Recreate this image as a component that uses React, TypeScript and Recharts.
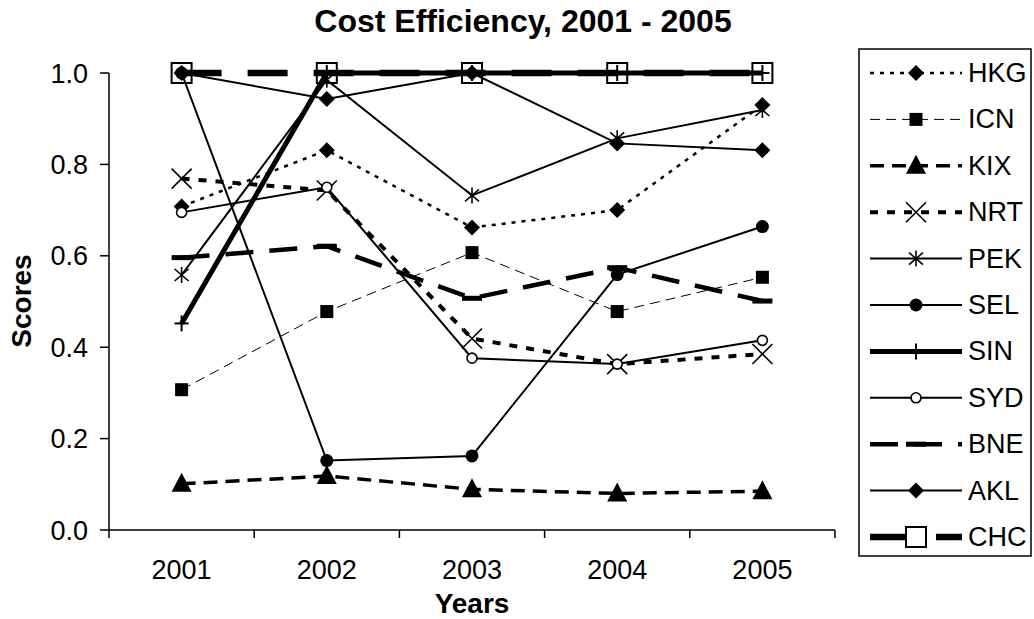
import React from "react";
import { LineChart, Line, XAxis, YAxis, Legend } from "recharts";

const YEARS = ["2001", "2002", "2003", "2004", "2005"];

const HKG = [0.708, 0.831, 0.662, 0.7, 0.93];
const ICN = [0.307, 0.478, 0.607, 0.478, 0.553];
const KIX = [0.101, 0.118, 0.089, 0.08, 0.085];
const NRT = [0.769, 0.743, 0.419, 0.363, 0.385];
const PEK = [0.558, 0.985, 0.732, 0.857, 0.919];
const SEL = [1.0, 0.152, 0.162, 0.559, 0.664];
const SIN = [0.452, 1.0, 1.0, 1.0, 1.0];
const SYD = [0.695, 0.75, 0.376, 0.363, 0.415];
const BNE = [0.596, 0.621, 0.507, 0.574, 0.501];
const AKL = [1.0, 0.943, 1.0, 0.846, 0.831];
const CHC = [1.0, 1.0, 1.0, 1.0, 1.0];

const Y_TICKS = [0, 0.2, 0.4, 0.6, 0.8, 1.0];

type MarkerKind =
  | "diamond"
  | "square"
  | "triangle"
  | "cross"
  | "star"
  | "dot"
  | "plus"
  | "ring"
  | "bar"
  | "box";

type Series = {
  name: string;
  values: number[];
  width: number;
  dash?: string;
  marker: MarkerKind;
};

const SERIES: Series[] = [
  { name: "HKG", values: HKG, width: 2.5, dash: "4 6", marker: "diamond" },
  { name: "ICN", values: ICN, width: 1, dash: "10 6", marker: "square" },
  { name: "KIX", values: KIX, width: 3.5, dash: "14 8", marker: "triangle" },
  { name: "NRT", values: NRT, width: 4, dash: "8 9", marker: "cross" },
  { name: "PEK", values: PEK, width: 2, marker: "star" },
  { name: "SEL", values: SEL, width: 2, marker: "dot" },
  { name: "SIN", values: SIN, width: 5, marker: "plus" },
  { name: "SYD", values: SYD, width: 2, marker: "ring" },
  { name: "BNE", values: BNE, width: 4.5, dash: "28 16", marker: "bar" },
  { name: "AKL", values: AKL, width: 2, marker: "diamond" },
  { name: "CHC", values: CHC, width: 6.5, dash: "40 26", marker: "box" },
];

const rows = YEARS.map((year, i) => {
  const row: Record<string, string | number> = { year };
  SERIES.forEach((s) => {
    row[s.name] = s.values[i];
  });
  return row;
});

const W = 1034;
const H = 619;
const PLOT_LEFT = 109;
const PLOT_RIGHT = 835;
const PLOT_TOP = 73;
const PLOT_BOTTOM = 530;
const FONT = "'Liberation Sans', Arial, sans-serif";

function marker(kind: MarkerKind, cx: number, cy: number, key?: string, boxFill = "none") {
  switch (kind) {
    case "diamond":
      return (
        <polygon
          key={key}
          points={`${cx},${cy - 8} ${cx + 8},${cy} ${cx},${cy + 8} ${cx - 8},${cy}`}
          fill="#000"
        />
      );
    case "square":
      return <rect key={key} x={cx - 6.5} y={cy - 6.5} width={13} height={13} fill="#000" />;
    case "triangle":
      return (
        <polygon
          key={key}
          points={`${cx},${cy - 11} ${cx + 10},${cy + 8} ${cx - 10},${cy + 8}`}
          fill="#000"
        />
      );
    case "cross":
      return (
        <g key={key} stroke="#000" strokeWidth={1.6}>
          <line x1={cx - 10} y1={cy - 10} x2={cx + 10} y2={cy + 10} />
          <line x1={cx - 10} y1={cy + 10} x2={cx + 10} y2={cy - 10} />
        </g>
      );
    case "star":
      return (
        <g key={key} stroke="#000" strokeWidth={1.6}>
          <line x1={cx - 7} y1={cy - 6} x2={cx + 7} y2={cy + 6} />
          <line x1={cx - 7} y1={cy + 6} x2={cx + 7} y2={cy - 6} />
          <line x1={cx} y1={cy - 8} x2={cx} y2={cy + 8} />
        </g>
      );
    case "dot":
      return <circle key={key} cx={cx} cy={cy} r={6.5} fill="#000" />;
    case "plus":
      return (
        <g key={key} stroke="#000" strokeWidth={2}>
          <line x1={cx} y1={cy - 8} x2={cx} y2={cy + 8} />
          <line x1={cx - 7} y1={cy} x2={cx + 7} y2={cy} />
        </g>
      );
    case "ring":
      return <circle key={key} cx={cx} cy={cy} r={5} fill="#fff" stroke="#000" strokeWidth={1.6} />;
    case "bar":
      return <rect key={key} x={cx - 10} y={cy - 2.5} width={20} height={5} fill="#000" />;
    case "box":
      return (
        <rect
          key={key}
          x={cx - 10}
          y={cy - 10}
          width={20}
          height={20}
          fill={boxFill}
          stroke="#000"
          strokeWidth={2}
        />
      );
  }
}

const XTick = (props: any) => {
  const { x, y, payload, index } = props;
  const half = (PLOT_RIGHT - PLOT_LEFT) / YEARS.length / 2;
  return (
    <g>
      <line x1={x - half} x2={x - half} y1={y} y2={y + 8} stroke="#000" strokeWidth={1.5} />
      {index === YEARS.length - 1 && (
        <line x1={x + half} x2={x + half} y1={y} y2={y + 8} stroke="#000" strokeWidth={1.5} />
      )}
      <text
        x={x}
        y={y + 40}
        textAnchor="middle"
        dominantBaseline="central"
        fontSize={27}
        fill="#000"
        fontFamily={FONT}
      >
        {payload.value}
      </text>
    </g>
  );
};

// legend box on the right, one row per airport
const LegendBox = () => {
  const rowGap = 46.4;
  return (
    <svg width={178} height={514} style={{ display: "block" }}>
      <rect x={3} y={3} width={172} height={507} fill="#fff" stroke="#000" strokeWidth={1.5} />
      {SERIES.map((s, i) => {
        const cy = 27 + i * rowGap;
        return (
          <g key={s.name}>
            <line
              x1={14}
              x2={106}
              y1={cy}
              y2={cy}
              stroke="#000"
              strokeWidth={s.width}
              strokeDasharray={s.dash}
            />
            {marker(s.marker, 60, cy, undefined, "#fff")}
            <text
              x={112}
              y={cy}
              dominantBaseline="central"
              fontSize={27}
              fill="#000"
              fontFamily={FONT}
            >
              {s.name}
            </text>
          </g>
        );
      })}
    </svg>
  );
};

export default function App() {
  return (
    <div
      style={{
        position: "absolute",
        left: 0,
        top: 0,
        width: W,
        height: H,
        background: "#fff",
        fontFamily: FONT,
      }}
    >
      <LineChart
        width={W}
        height={H}
        data={rows}
        margin={{ top: PLOT_TOP, right: W - PLOT_RIGHT, bottom: 0, left: 0 }}
      >
        <XAxis
          dataKey="year"
          scale="band"
          height={H - PLOT_BOTTOM}
          tickLine={false}
          tickSize={0}
          tickMargin={0}
          tick={<XTick />}
          axisLine={{ stroke: "#000", strokeWidth: 1.5 }}
        />
        <XAxis
          xAxisId="frame"
          dataKey="year"
          orientation="top"
          height={0}
          tick={false}
          tickLine={false}
          axisLine={{ stroke: "#888", strokeWidth: 2 }}
        />
        <YAxis
          domain={[0, 1]}
          ticks={Y_TICKS}
          width={PLOT_LEFT}
          tickSize={9}
          tickMargin={12}
          tickFormatter={(v: number) => v.toFixed(1)}
          tick={{ fontSize: 27, fill: "#000", fontFamily: FONT }}
          tickLine={{ stroke: "#000", strokeWidth: 1.5 }}
          axisLine={{ stroke: "#000", strokeWidth: 1.5 }}
        />
        <YAxis
          yAxisId="frame"
          orientation="right"
          domain={[0, 1]}
          width={0}
          tick={false}
          tickLine={false}
          axisLine={{ stroke: "#888", strokeWidth: 2 }}
        />
        <Legend
          layout="vertical"
          align="center"
          verticalAlign="middle"
          wrapperStyle={{ left: 856, top: 46, width: 178, height: 514 }}
          content={() => <LegendBox />}
        />
        {SERIES.map((s) => (
          <Line
            key={s.name}
            type="linear"
            dataKey={s.name}
            stroke="#000"
            strokeWidth={s.width}
            strokeDasharray={s.dash}
            dot={(p: any) => marker(s.marker, p.cx, p.cy, `${s.name}-${p.index}`)}
            activeDot={false}
            isAnimationActive={false}
          />
        ))}
      </LineChart>
      <svg
        width={W}
        height={H}
        style={{ position: "absolute", left: 0, top: 0, pointerEvents: "none" }}
      >
        <text
          x={523}
          y={21}
          textAnchor="middle"
          dominantBaseline="central"
          fontSize={32}
          fontWeight="bold"
          fontFamily={FONT}
        >
          Cost Efficiency, 2001 - 2005
        </text>
        <text
          x={472}
          y={603}
          textAnchor="middle"
          dominantBaseline="central"
          fontSize={28}
          fontWeight="bold"
          fontFamily={FONT}
        >
          Years
        </text>
        <text
          x={21}
          y={301}
          textAnchor="middle"
          dominantBaseline="central"
          fontSize={28}
          fontWeight="bold"
          fontFamily={FONT}
          transform="rotate(-90 21 301)"
        >
          Scores
        </text>
      </svg>
    </div>
  );
}
